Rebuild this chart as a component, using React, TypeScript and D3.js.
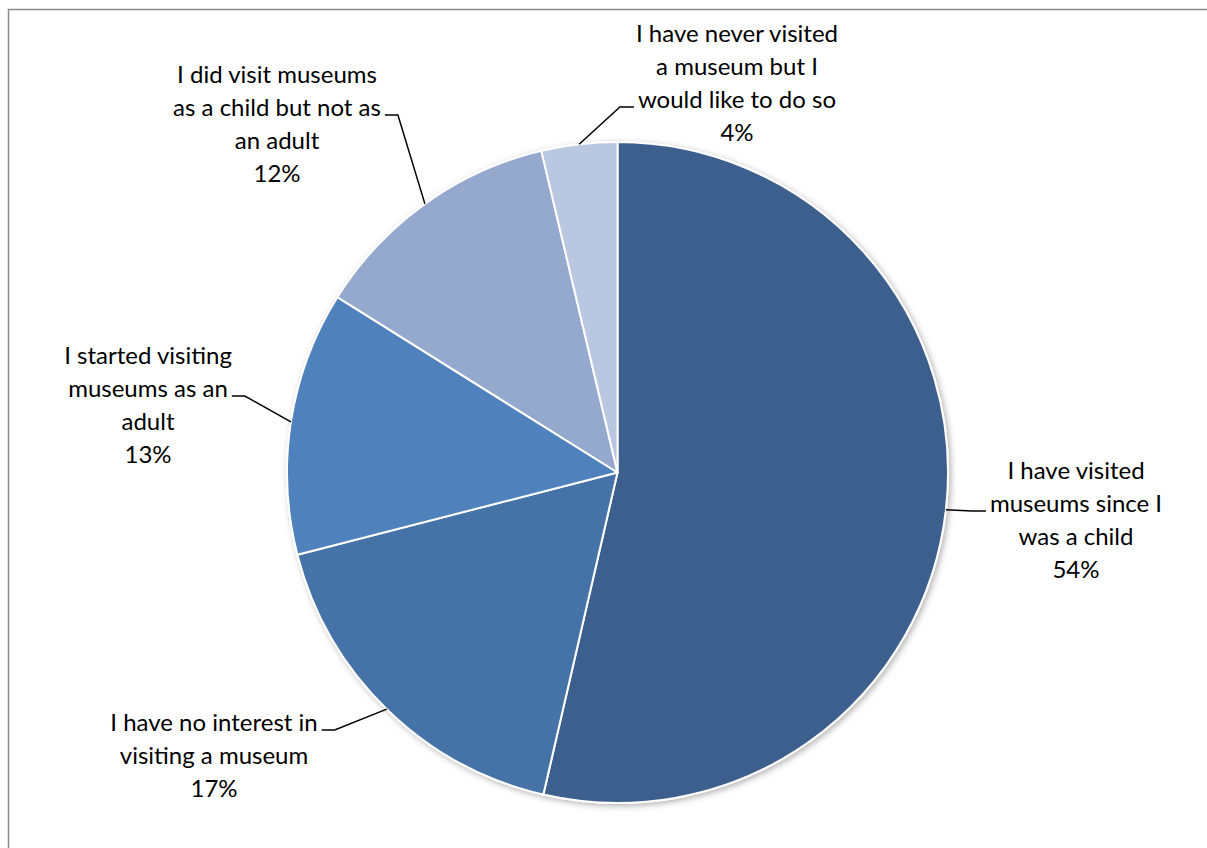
import React, { useEffect, useRef } from "react";
import * as d3 from "d3";

const categories = [
  "I have visited museums since I was a child",
  "I have no interest in visiting a museum",
  "I started visiting museums as an adult",
  "I did visit museums as a child but not as an adult",
  "I have never visited a museum but I would like to do so",
];
const labelLines = [
  ["I have visited", "museums since I", "was a child"],
  ["I have no interest in", "visiting a museum"],
  ["I started visiting", "museums as an", "adult"],
  ["I did visit museums", "as a child but not as", "an adult"],
  ["I have never visited", "a museum but I", "would like to do so"],
];
const values = [53.6, 17.4, 12.9, 12.4, 3.7];
const colors = ["#3C5F8D", "#4573A7", "#4F81BD", "#95A9CF", "#B9C7E0"];

// layout: label first-baseline offset from pie center, attached line, side of attachment
const labelLayout = [
  { dx: 458.5, dy: 6.5, line: 1, side: "left" },
  { dx: -403.5, dy: 258.5, line: 0, side: "right" },
  { dx: -469.5, dy: -108.5, line: 1, side: "right" },
  { dx: -340.5, dy: -389.5, line: 1, side: "right" },
  { dx: 119.5, dy: -430.5, line: 2, side: "left" },
];

const W = 1207;
const H = 848;
const CX = 617.5;
const CY = 472.5;
const R = 330.5;
const LINE_H = 33;
const FONT = "Lato, 'Open Sans', sans-serif";

export default function App() {
  const ref = useRef<SVGSVGElement>(null);

  useEffect(() => {
    const svg = d3.select(ref.current);
    svg.selectAll("*").remove();

    const defs = svg.append("defs");
    const f = defs
      .append("filter")
      .attr("id", "shadow")
      .attr("x", "-10%")
      .attr("y", "-10%")
      .attr("width", "120%")
      .attr("height", "120%");
    f.append("feDropShadow")
      .attr("dx", 2)
      .attr("dy", 2)
      .attr("stdDeviation", 3)
      .attr("flood-color", "#000")
      .attr("flood-opacity", 0.3);

    svg
      .append("rect")
      .attr("x", 0)
      .attr("y", 0)
      .attr("width", W)
      .attr("height", H)
      .attr("fill", "#fff");

    // chart area border
    svg
      .append("path")
      .attr("d", `M8.5,${H + 5} L8.5,9.5 L${W + 5},9.5`)
      .attr("fill", "none")
      .attr("stroke", "#8a8a8a")
      .attr("stroke-width", 1.5);

    const pie = d3
      .pie<number>()
      .sort(null)
      .value((d) => d);
    const arcs = pie(values);
    const arc = d3.arc<d3.PieArcDatum<number>>().innerRadius(0).outerRadius(R);

    const g = svg.append("g").attr("transform", `translate(${CX},${CY})`);
    const shadowG = g.append("g").attr("filter", "url(#shadow)");
    shadowG
      .selectAll("path")
      .data(arcs)
      .join("path")
      .attr("d", arc)
      .attr("fill", (_, i) => colors[i])
      .attr("stroke", "#fff")
      .attr("stroke-width", 2)
      .attr("stroke-linejoin", "round");

    const fmt = d3.format(".0f");

    arcs.forEach((a, i) => {
      const lay = labelLayout[i];
      const lines = [...labelLines[i], `${fmt(values[i])}%`];
      const text = g
        .append("text")
        .attr("font-family", FONT)
        .attr("font-size", 24)
        .attr("fill", "#000")
        .attr("text-anchor", "middle");
      const tspans: SVGTSpanElement[] = [];
      lines.forEach((ln, j) => {
        const t = text
          .append("tspan")
          .attr("x", lay.dx)
          .attr("y", lay.dy + j * LINE_H)
          .text(ln);
        tspans.push(t.node() as SVGTSpanElement);
      });

      const attached = tspans[lay.line];
      const w = attached.getComputedTextLength();
      const ly = lay.dy + lay.line * LINE_H - 1;
      const mid = (a.startAngle + a.endAngle) / 2;
      const sx = Math.sin(mid) * R;
      const sy = -Math.cos(mid) * R;
      const ex = lay.side === "left" ? lay.dx - w / 2 - 4 : lay.dx + w / 2 + 4;
      const bx = lay.side === "left" ? ex - 14 : ex + 13;
      g.append("path")
        .attr("d", `M${sx},${sy} L${bx},${ly} L${ex},${ly}`)
        .attr("fill", "none")
        .attr("stroke", "#000")
        .attr("stroke-width", 1.5);
    });
  }, []);

  return (
    <svg
      ref={ref}
      width={W}
      height={H}
      style={{ position: "absolute", left: 0, top: 0, display: "block" }}
    />
  );
}
